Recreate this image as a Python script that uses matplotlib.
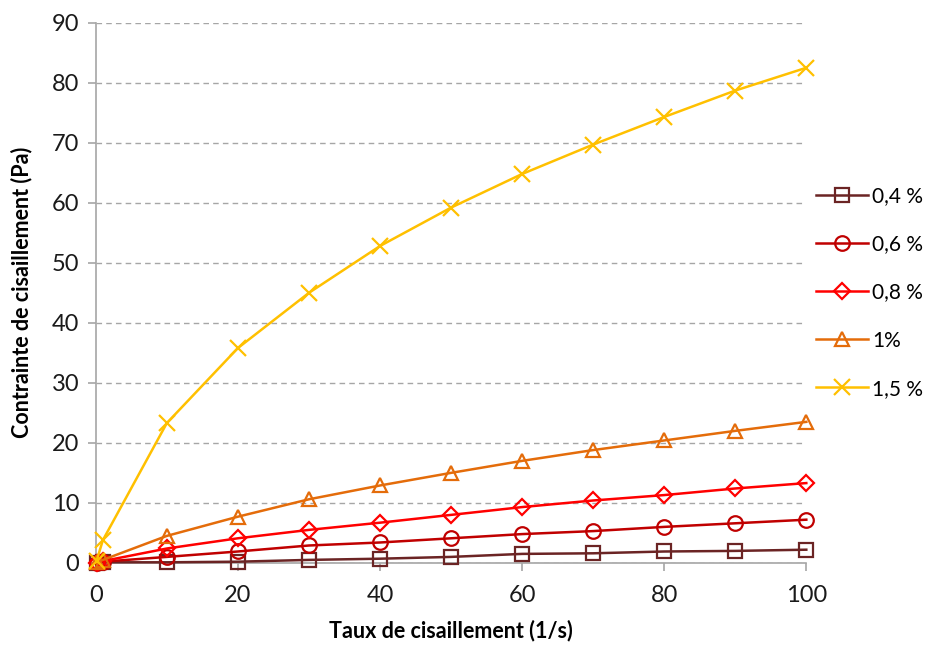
import matplotlib.pyplot as plt

# shear rate (1/s)
shear_rate = [0.1, 1, 10, 20, 30, 40, 50, 60, 70, 80, 90, 100]

# shear stress (Pa) for each concentration
stress_04 = [0.0, 0.1, 0.1, 0.2, 0.5, 0.7, 1.0, 1.5, 1.6, 1.9, 2.0, 2.2]
stress_06 = [0.0, 0.2, 1.0, 1.9, 2.9, 3.4, 4.1, 4.8, 5.3, 6.0, 6.6, 7.2]
stress_08 = [0.0, 0.3, 2.4, 4.1, 5.5, 6.7, 8.0, 9.3, 10.4, 11.3, 12.4, 13.3]
stress_1 = [0.1, 0.5, 4.5, 7.7, 10.6, 12.9, 15.0, 17.0, 18.8, 20.4, 22.0, 23.5]
stress_15 = [0.3, 3.8, 23.3, 35.8, 45.0, 52.8, 59.2, 64.8, 69.7, 74.3, 78.7, 82.5]

labels = ["0,4 %", "0,6 %", "0,8 %", "1%", "1,5 %"]
series = [stress_04, stress_06, stress_08, stress_1, stress_15]
colors = ["#6B2424", "#C00000", "#FF0000", "#E46C0A", "#FFC000"]
markers = ["s", "o", "D", "^", "x"]
sizes = [10.5, 10.5, 8, 10.5, 11]

plt.rcParams["font.family"] = ["Lato", "DejaVu Sans"]

fig = plt.figure(figsize=(9.3, 6.5), dpi=100)
ax = fig.add_axes([0.103, 0.134, 0.764, 0.831])

for y, lab, c, m, s in zip(series, labels, colors, markers, sizes):
    ax.plot(shear_rate, y, color=c, lw=1.8, marker=m, markersize=s,
            markerfacecolor="none", markeredgecolor=c, markeredgewidth=1.6,
            label=lab, clip_on=False, zorder=3)

ax.set_xlim(0, 100)
ax.set_ylim(0, 90)
ax.set_xticks(range(0, 101, 20))
ax.set_yticks(range(0, 91, 10))
ax.yaxis.grid(True, color="#A6A6A6", linestyle=(0, (4, 3)), linewidth=1)
ax.set_axisbelow(True)

for side in ["top", "right"]:
    ax.spines[side].set_visible(False)
for side in ["left", "bottom"]:
    ax.spines[side].set_color("#A6A6A6")
    ax.spines[side].set_linewidth(1.2)
ax.tick_params(axis="both", colors="#A6A6A6", labelcolor="#1a1a1a",
               labelsize=17, length=6, width=1.2)
ax.tick_params(axis="x", pad=10)
ax.tick_params(axis="y", pad=6)

ax.set_xlabel("Taux de cisaillement (1/s)", fontsize=15.5, fontweight="bold",
              labelpad=10)
ax.set_ylabel("Contrainte de cisaillement (Pa)", fontsize=15.5,
              fontweight="bold", labelpad=14)

fig.legend(loc="center left", bbox_to_anchor=(0.868, 0.55), frameon=False,
           fontsize=15, handlelength=2.5, handletextpad=0.2,
           labelspacing=1.35, borderaxespad=0)

fig.savefig("out.png", dpi=100)
plt.close(fig)
